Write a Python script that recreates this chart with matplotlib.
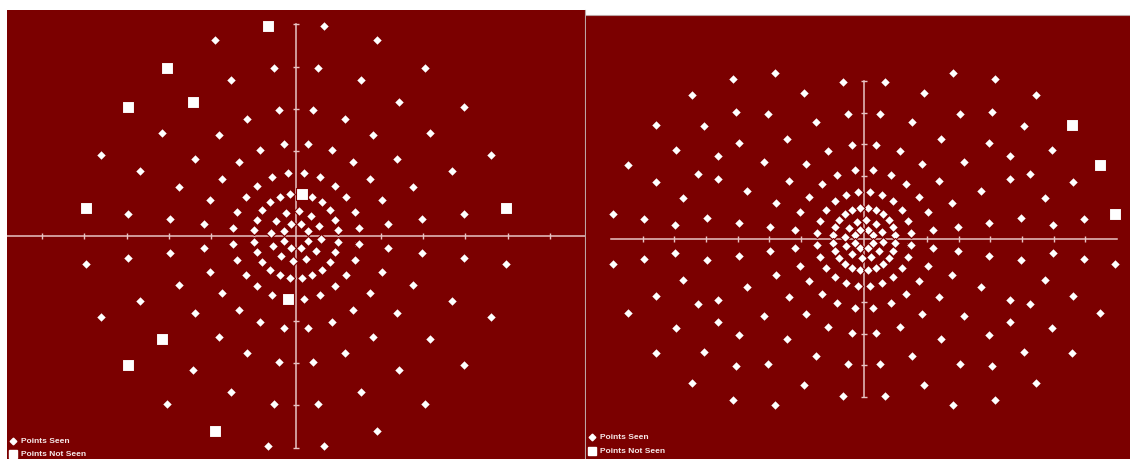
import numpy as np
import matplotlib.pyplot as plt

W, H = 1130, 459
BG = '#7b0000'
LINE = '#e8c4c4'
TEXT = '#f6e8e8'

# central test grid, same for both fields: ring radius (deg) and meridians (deg)
ring_radii = [3, 6, 10, 15, 22, 30, 40, 50]
angles_ring3 = [22.5, 67.5, 112.5, 157.5, 202.5, 247.5, 292.5, 337.5]
angles_ring6 = [22.5, 52.5, 82.5, 112.5, 142.5, 172.5,
                202.5, 232.5, 262.5, 292.5, 322.5, 352.5]
angles_outer = [7.5, 22.5, 37.5, 52.5, 67.5, 82.5, 97.5, 112.5,
                127.5, 142.5, 157.5, 172.5, 187.5, 202.5, 217.5, 232.5,
                247.5, 262.5, 277.5, 292.5, 307.5, 322.5, 337.5, 352.5]

# left field: grid locations not seen (radius, meridian)
left_missed_r = [50, 50, 50, 50, 50, 50, 50, 40, 40, 15, 10]
left_missed_a = [7.5, 97.5, 127.5, 142.5, 172.5, 217.5, 247.5,
                 127.5, 217.5, 262.5, 82.5]

# right field: extra peripheral locations (deg), seen
right_extra_x = [28.2, 41.6, 54.6, 40.4, 50.7, 46.3, 59.5, 52.5, 66.0, 57.2, 69.5, 59.8,
                 -28.2, -41.6, -54.6, -40.4, -50.7, -65.9, -46.3, -59.5, -74.7, -52.5,
                 -66.0, -57.2, -79.3, -69.5, -59.8,
                 -28.2, -41.6, -54.6, -40.4, -50.7, -65.9, -46.3, -59.5, -74.7, -52.5,
                 -66.0, -57.2, -79.3, -69.5, -59.8,
                 28.2, 41.6, 54.6, 40.4, 50.7, 65.9, 46.3, 59.5, 74.7, 52.5,
                 66.0, 57.2, 79.3, 69.5, 59.8]
right_extra_y = [52.5, 50.8, 45.5, 40.3, 35.7, 26.3, 28.1, 20.5, 18.1, 13.1, 6.2, 4.4,
                 52.5, 50.8, 45.5, 40.3, 35.7, 36.0, 26.3, 28.1, 23.3, 20.5,
                 18.1, 13.1, 8.0, 6.2, 4.4,
                 -52.5, -50.8, -45.5, -40.3, -35.7, -36.0, -26.3, -28.1, -23.3, -20.5,
                 -18.1, -13.1, -8.0, -6.2, -4.4,
                 -52.5, -50.8, -45.5, -40.3, -35.7, -36.0, -26.3, -28.1, -23.3, -20.5,
                 -18.1, -13.1, -8.0, -6.2, -4.4]
# right field: peripheral locations not seen
right_missed_x = [65.9, 74.7, 79.3]
right_missed_y = [36.0, 23.3, 8.0]

h_ticks = [-70, -60, -50, -40, -30, -20, -10, 10, 20, 30, 40, 50, 60, 70]
v_ticks = [-50, -40, -30, -20, -10, 10, 20, 30, 40, 50]


def ring_angles(r):
    if r == 3:
        return angles_ring3
    if r == 6:
        return angles_ring6
    return angles_outer


def grid(missed):
    seen_x, seen_y, miss_x, miss_y = [], [], [], []
    for r in ring_radii:
        for a in ring_angles(r):
            x = r * np.cos(np.radians(a))
            y = r * np.sin(np.radians(a))
            if (r, a) in missed:
                miss_x.append(x)
                miss_y.append(y)
            else:
                seen_x.append(x)
                seen_y.append(y)
    return seen_x, seen_y, miss_x, miss_y


def draw_field(ax, seen_x, seen_y, miss_x, miss_y, xlim, ylim, leg_y):
    ax.set_facecolor(BG)
    ax.plot([-80, 80], [0, 0], color=LINE, lw=1.1, zorder=1)
    ax.plot([0, 0], [-50, 50], color=LINE, lw=1.1, zorder=1)
    ax.plot(h_ticks, [0] * len(h_ticks), ls='none', marker='|', ms=4, mew=1,
            color=LINE, zorder=1)
    ax.plot([0] * len(v_ticks), v_ticks, ls='none', marker='_', ms=4, mew=1,
            color=LINE, zorder=1)
    ax.scatter(seen_x, seen_y, marker='D', s=26, c='white', edgecolors=BG,
               linewidths=0.8, zorder=3)
    ax.scatter(miss_x, miss_y, marker='s', s=72, c='white', edgecolors=BG,
               linewidths=0.8, zorder=3)
    ax.text(15, -2.3, 'BS', color='#e2baba', fontsize=5, ha='center',
            va='center', family='Liberation Sans', zorder=2)
    ax.set_xlim(*xlim)
    ax.set_ylim(*ylim)
    ax.set_xticks([])
    ax.set_yticks([])

    # key in the lower left corner
    lx, tx = 0.011, 0.025
    ax.plot([lx], [leg_y[0]], marker='D', ms=3.4, color='white', ls='none',
            transform=ax.transAxes, clip_on=False)
    ax.plot([lx], [leg_y[1]], marker='s', ms=5.5, color='white', ls='none',
            transform=ax.transAxes, clip_on=False)
    ax.text(tx, leg_y[0], 'Points Seen', transform=ax.transAxes, color=TEXT,
            fontsize=6, fontweight='bold', family='Liberation Sans', va='center')
    ax.text(tx, leg_y[1], 'Points Not Seen', transform=ax.transAxes, color=TEXT,
            fontsize=6, fontweight='bold', family='Liberation Sans', va='center')


fig = plt.figure(figsize=(W / 100, H / 100), dpi=100, facecolor='white')

left_missed = list(zip(left_missed_r, left_missed_a))
lsx, lsy, lmx, lmy = grid(left_missed)
ax1 = fig.add_axes([7 / W, 0, 578 / W, 449 / H])
draw_field(ax1, lsx, lsy, lmx, lmy, (-68.3, 68.3), (-52.7, 53.4), (0.040, 0.011))
for side in ['left', 'top', 'bottom']:
    ax1.spines[side].set_visible(False)
ax1.spines['right'].set_color('#bca4a4')

rsx, rsy, _, _ = grid([])
ax2 = fig.add_axes([586 / W, 0, 544 / W, 444 / H])
draw_field(ax2, rsx + right_extra_x, rsy + right_extra_y,
           right_missed_x, right_missed_y, (-88.0, 84.2), (-69.6, 70.9),
           (0.0495, 0.018))
for side in ['right', 'bottom', 'left']:
    ax2.spines[side].set_visible(False)
ax2.spines['top'].set_color('#bca4a4')

fig.savefig('out.png', dpi=100, facecolor='white')
